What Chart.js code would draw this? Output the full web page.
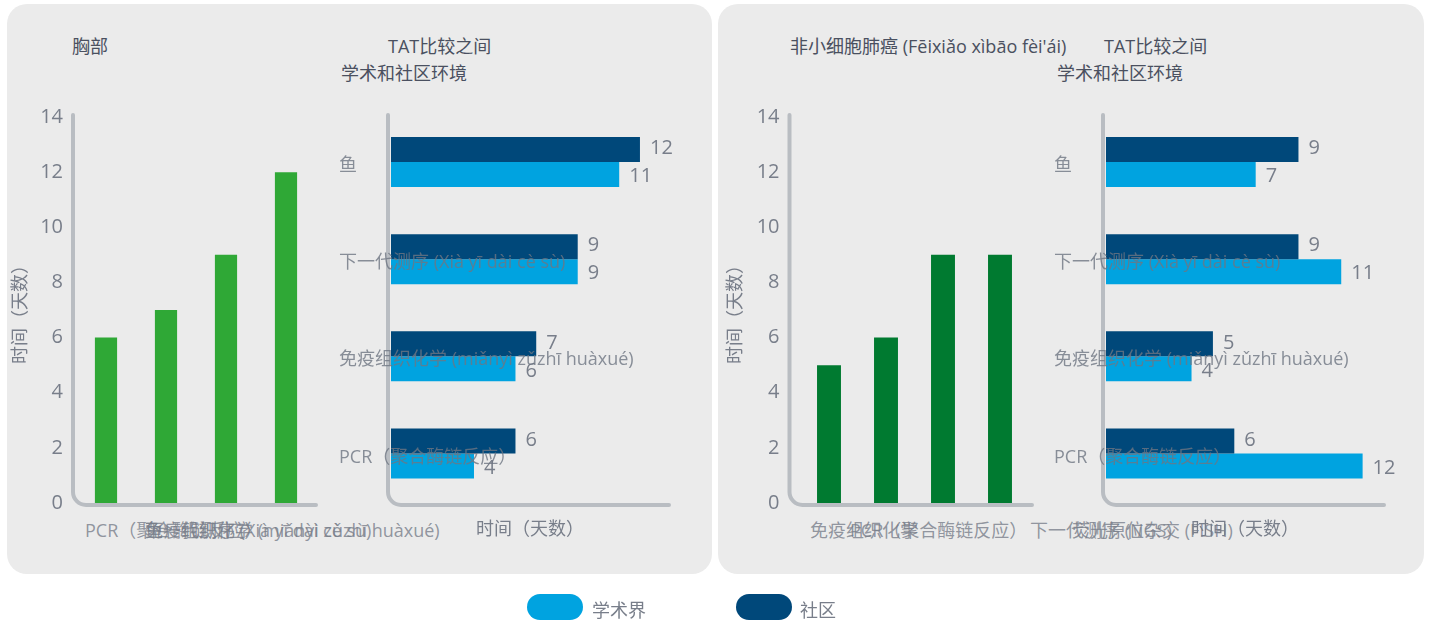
<!DOCTYPE html>
<html>
<head>
<meta charset="utf-8">
<script src="https://cdn.jsdelivr.net/npm/chart.js@4.4.1/dist/chart.umd.min.js"></script>
<style>
  body { margin:0; width:1432px; height:623px; background:#fff; position:relative; overflow:hidden;
         font-family:'Open Sans','Noto Sans CJK SC',sans-serif; }
  .panel { position:absolute; top:4px; height:570px; background:#ebebeb; border-radius:20px; }
  canvas { position:absolute; left:0; top:0; }
  .t { position:absolute; font-size:18px; line-height:18px; color:#4a5060; white-space:nowrap; }
  .xl { position:absolute; top:521px; font-size:18px; line-height:18px; color:rgba(120,126,138,0.8); white-space:nowrap; }
  .pill { position:absolute; top:594px; width:56px; height:26px; border-radius:13px; }
  .lg { position:absolute; top:601px; font-size:18px; line-height:18px; color:#787e8a; }
</style>
</head>
<body>
<div class="panel" style="left:7px;width:705px"></div>
<div class="panel" style="left:718px;width:706px"></div>

<div class="t" style="left:72px;top:37px">胸部</div>
<div class="t" style="left:388px;top:37px">TAT比较之间</div>
<div class="t" style="left:341px;top:64px">学术和社区环境</div>
<div class="t" style="left:790px;top:37px">非小细胞肺癌 (Fēixiǎo xìbāo fèi'ái)</div>
<div class="t" style="left:1104px;top:37px">TAT比较之间</div>
<div class="t" style="left:1057px;top:64px">学术和社区环境</div>

<div id="xlabels"></div>

<canvas id="chestBar" width="1432" height="623"></canvas>
<canvas id="chestTat" width="1432" height="623"></canvas>
<canvas id="nsclcBar" width="1432" height="623"></canvas>
<canvas id="nsclcTat" width="1432" height="623"></canvas>

<div class="pill" style="left:527px;background:#00a3e0"></div>
<div class="lg" style="left:592px">学术界</div>
<div class="pill" style="left:736px;background:#00487a"></div>
<div class="lg" style="left:800px">社区</div>

<script>
// ---- data ----
const tatCats = ['鱼', '下一代测序 (Xià yī dài cè sù)', '免疫组织化学 (miǎnyì zǔzhī huàxué)', 'PCR（聚合酶链反应）'];
const chestCommunity = [12, 9, 7, 6];
const chestAcademic  = [11, 9, 6, 4];
const nsclcCommunity = [9, 9, 5, 6];
const nsclcAcademic  = [7, 11, 4, 12];

const chestCats  = ['PCR（聚合酶链反应）', '免疫组织化学 (miǎnyì zǔzhī huàxué)', '下一代测序 (Xià yī dài cè sù)', '鱼'];
const chestTimes = [6, 7, 9, 12];
const nsclcCats  = ['免疫组织化学', 'PCR（聚合酶链反应）', '下一代测序 (NGS)', '荧光原位杂交 (FISH)'];
const nsclcTimes = [5, 6, 9, 9];

const seriesNames = ['社区', '学术界'];
const axisTitle = '时间（天数）';

// ---- style ----
const W = 1432, H = 623;
const DARK = '#00487a', LIGHT = '#00a3e0';
const GRAY = '#787e8a';
const FONT = "'Open Sans','Noto Sans CJK SC',sans-serif";

// overlapping category labels under the green bars (as in the source layout)
const xl = document.getElementById('xlabels');
[[chestCats, [85, 145, 145, 145]], [nsclcCats, [810, 850, 1030, 1072]]].forEach(([cats, xs]) => {
  cats.forEach((c, i) => {
    const s = document.createElement('div');
    s.className = 'xl'; s.style.left = xs[i] + 'px'; s.textContent = c;
    xl.appendChild(s);
  });
});

// rounded L-shaped axis
const axisL = {
  id: 'axisL',
  beforeDatasetsDraw(chart, args, o) {
    const { left, right, bottom } = chart.chartArea;
    const ctx = chart.ctx;
    const x = left - o.gap, y = bottom + o.down, r = 13;
    ctx.save();
    ctx.strokeStyle = '#b9bdc2'; ctx.lineWidth = 4; ctx.lineCap = 'round';
    ctx.beginPath();
    ctx.moveTo(x, o.top);
    ctx.lineTo(x, y - r);
    ctx.arcTo(x, y, x + r, y, r);
    ctx.lineTo(right + o.extend, y);
    ctx.stroke();
    ctx.restore();
  }
};

// value labels at bar ends
const valueLabels = {
  id: 'valueLabels',
  afterDatasetsDraw(chart) {
    const ctx = chart.ctx;
    ctx.save();
    ctx.font = '20px ' + FONT; ctx.fillStyle = GRAY;
    ctx.textAlign = 'left'; ctx.textBaseline = 'middle';
    chart.data.datasets.forEach((ds, i) => {
      const dy = i === 0 ? -1 : 2;
      chart.getDatasetMeta(i).data.forEach((bar, j) => ctx.fillText(ds.data[j], bar.x + 10, bar.y + dy));
    });
    ctx.restore();
  }
};

function vChart(id, cats, vals, color, a) {
  new Chart(document.getElementById(id), {
    type: 'bar',
    data: { labels: cats, datasets: [{ data: vals, backgroundColor: color, barPercentage: a.bar, categoryPercentage: 1 }] },
    options: {
      responsive: false, animation: false,
      layout: { padding: { left: a.l - a.yw, top: a.t, right: W - a.r, bottom: H - a.b } },
      plugins: { legend: { display: false }, tooltip: { enabled: false },
                 axisL: { gap: a.gap, top: 115, down: 2, extend: a.ext } },
      scales: {
        x: { display: false },
        y: {
          min: 0, max: 14,
          ticks: { stepSize: 2, padding: a.tp, color: GRAY, font: { size: 20, family: FONT } },
          grid: { display: false, drawTicks: false }, border: { display: false },
          title: { display: true, text: axisTitle, color: GRAY, font: { size: 18, family: FONT } },
          afterFit(s) { s.width = a.yw; }
        }
      }
    },
    plugins: [axisL]
  });
}

function hChart(id, community, academic, a) {
  new Chart(document.getElementById(id), {
    type: 'bar',
    data: {
      labels: tatCats,
      datasets: [
        { label: seriesNames[0], data: community, backgroundColor: DARK, categoryPercentage: 0.515, barPercentage: 1 },
        { label: seriesNames[1], data: academic, backgroundColor: LIGHT, categoryPercentage: 0.515, barPercentage: 1 }
      ]
    },
    options: {
      indexAxis: 'y', responsive: false, animation: false,
      layout: { padding: { left: a.l, top: a.t, right: W - a.r, bottom: H - a.b - 43 } },
      plugins: { legend: { display: false }, tooltip: { enabled: false },
                 axisL: { gap: 3, top: 115, down: 3, extend: 0 } },
      scales: {
        x: {
          min: 0, max: a.max,
          ticks: { display: false }, grid: { display: false, drawTicks: false }, border: { display: false },
          title: { display: true, text: axisTitle, color: GRAY, font: { size: 18, family: FONT } },
          afterFit(s) { s.height = 43; }
        },
        y: {
          // labels start left of the axis and run over the bars, as in the source
          ticks: { mirror: true, padding: a.lx - a.l, labelOffset: 4, z: 1,
                   color: 'rgba(110,117,130,0.8)', font: { size: 18, family: FONT } },
          grid: { display: false, drawTicks: false }, border: { display: false },
          afterFit(s) { s.width = 0; }
        }
      }
    },
    plugins: [axisL, valueLabels]
  });
}

vChart('chestBar', chestCats, chestTimes, '#2fa836', { l: 76, r: 316, t: 117, b: 503, yw: 70, tp: 13, gap: 3, ext: 0, bar: 0.37 });
vChart('nsclcBar', nsclcCats, nsclcTimes, '#007a30', { l: 800.5, r: 1028.5, t: 117, b: 503, yw: 79, tp: 21, gap: 11, ext: 3.5, bar: 0.42 });
hChart('chestTat', chestCommunity, chestAcademic, { lx: 339, l: 391, r: 669, t: 113.5, b: 502, max: 13.4 });
hChart('nsclcTat', nsclcCommunity, nsclcAcademic, { lx: 1054, l: 1106, r: 1384, t: 113.5, b: 502, max: 13 });
</script>
</body>
</html>
